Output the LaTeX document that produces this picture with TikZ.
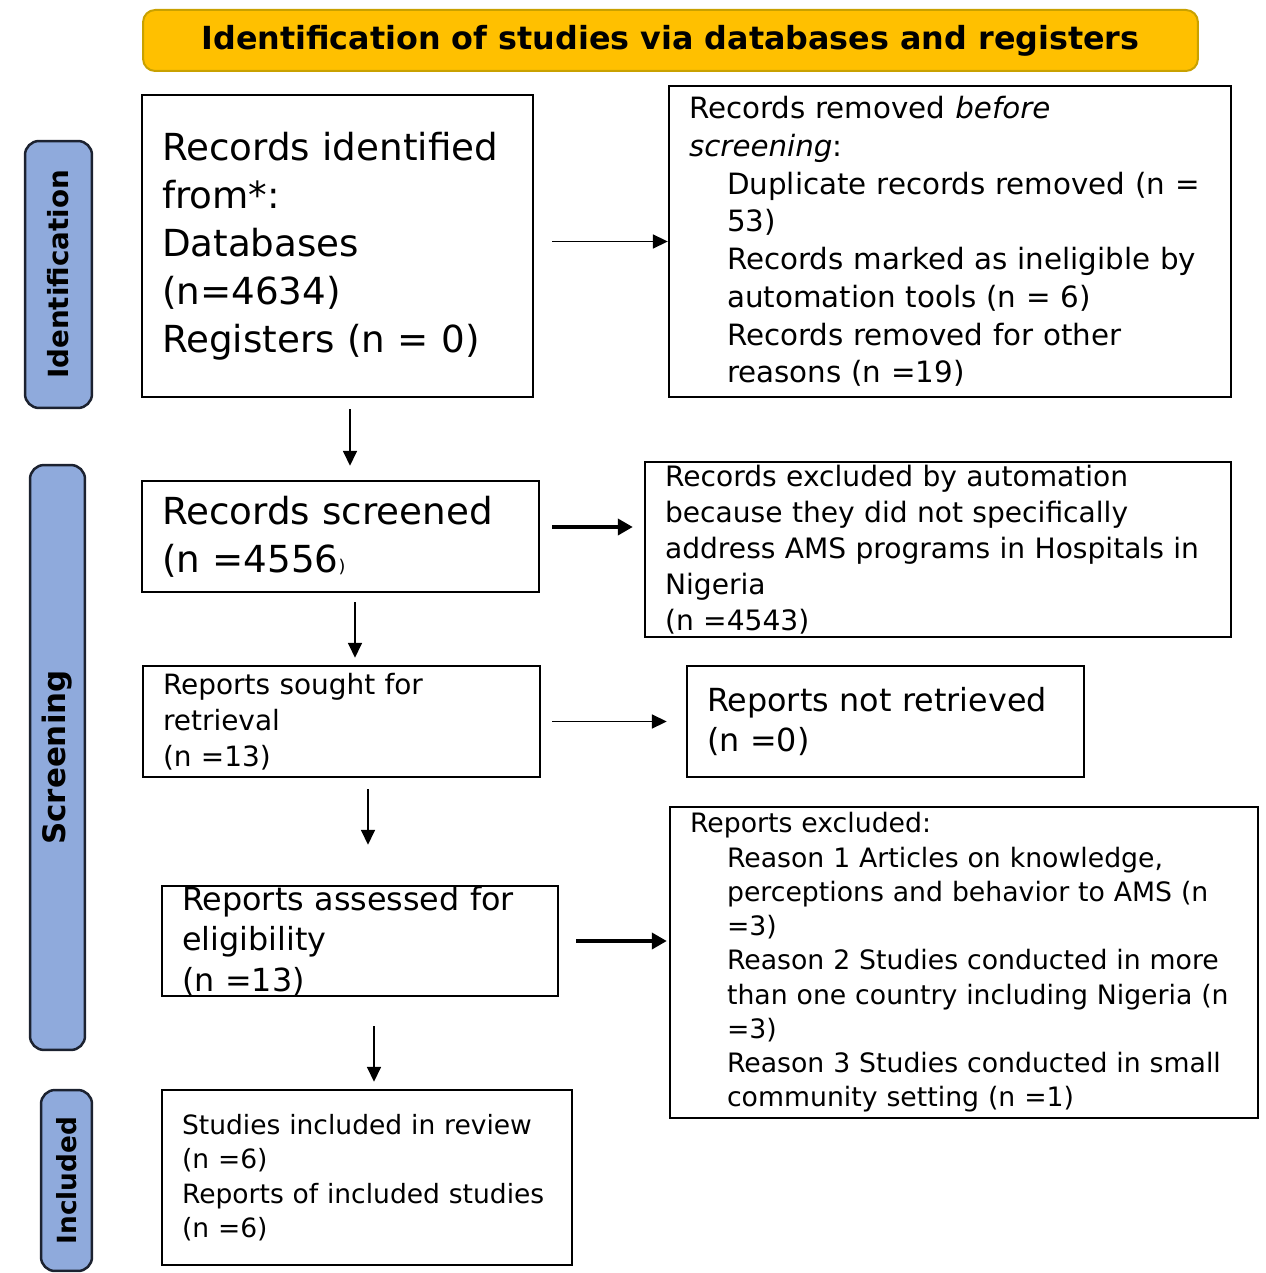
\documentclass[tikz,border=0pt]{standalone}
\usepackage{fontspec}
\setmainfont{DejaVu Sans}
\usetikzlibrary{arrows.meta}
\definecolor{headfill}{HTML}{FFC000}
\definecolor{headline}{HTML}{C9A100}
\definecolor{barfill}{HTML}{8FAADC}
\definecolor{barline}{HTML}{1C2230}
\begin{document}
\begin{tikzpicture}[x=0.02cm,y=-0.02cm,
	box/.style={draw,line width=0.05cm,align=left,inner xsep=0.4cm,inner ysep=-0.15cm},
	bar/.style={draw=barline,fill=barfill,line width=0.05cm,rounded corners=0.28cm,rotate=90,inner sep=0pt},
	arr/.style={line width=0.035cm,-{Triangle[length=0.3cm,width=0.28cm]}},
	fatarr/.style={line width=0.08cm,-{Triangle[length=0.3cm,width=0.32cm]}}]
	\useasboundingbox (0,0) rectangle (1265,1273);
	\node[draw=headline,fill=headfill,line width=0.04cm,rounded corners=0.24cm,minimum width=21.1cm,minimum height=1.22cm,font=\bfseries\fontsize{18.1}{22}\selectfont] (head) at (670.5,40.5) {Identification of studies via databases and registers};
	\node[bar,minimum width=5.34cm,minimum height=1.34cm,font=\bfseries\fontsize{15.8}{19}\selectfont] (idbar) at (58.5,274.5) {Identification};
	\node[bar,minimum width=11.7cm,minimum height=1.1cm,font=\bfseries\fontsize{17.6}{21}\selectfont] (scrbar) at (57.5,757.5) {Screening};
	\node[bar,minimum width=3.62cm,minimum height=1.02cm,font=\bfseries\fontsize{15}{18}\selectfont] (incbar) at (66.5,1180.5) {Included};
	\node[box,text width=7.02cm,minimum height=6.04cm,font=\fontsize{21.2}{27.3}\selectfont] (idbox) at (337.5,246) {Records identified\\from*:\\Databases\\(n=4634)\\Registers (n = 0)};
	\node[box,text width=10.44cm,minimum height=6.22cm,font=\fontsize{16.7}{21.5}\selectfont] (removed) at (950,241.5) {Records removed \textit{before}\\\textit{screening}:\\
		\hspace*{0.76cm}Duplicate records removed (n =\\\hspace*{0.76cm}53)\\
		\hspace*{0.76cm}Records marked as ineligible by\\\hspace*{0.76cm}automation tools (n = 6)\\
		\hspace*{0.76cm}Records removed for other\\\hspace*{0.76cm}reasons (n =19)};
	\node[box,text width=7.14cm,minimum height=2.22cm,font=\fontsize{21.2}{27.3}\selectfont] (screened) at (340.5,536.5) {Records screened\\(n =4556{\fontsize{10}{12}\selectfont)}};
	\node[box,text width=10.92cm,minimum height=3.5cm,font=\fontsize{16}{20.5}\selectfont] (autoexcl) at (938,549.5) {Records excluded by automation\\because they did not specifically\\address AMS programs in Hospitals in\\Nigeria\\(n =4543)};
	\node[box,text width=7.14cm,minimum height=2.22cm,font=\fontsize{15.9}{20.5}\selectfont] (sought) at (341.5,721.5) {Reports sought for\\retrieval\\(n =13)};
	\node[box,text width=7.14cm,minimum height=2.22cm,font=\fontsize{18.1}{23.3}\selectfont] (notret) at (885.5,721.5) {Reports not retrieved\\(n =0)};
	\node[box,text width=7.12cm,minimum height=2.2cm,font=\fontsize{18.1}{23.3}\selectfont] (assessed) at (360,941) {Reports assessed for\\eligibility\\(n =13)};
	\node[box,text width=10.96cm,minimum height=6.22cm,font=\fontsize{15.2}{19.5}\selectfont] (repexcl) at (964,962.5) {Reports excluded:\\
		\hspace*{0.74cm}Reason 1 Articles on knowledge,\\\hspace*{0.74cm}perceptions and behavior to AMS (n\\\hspace*{0.74cm}=3)\\
		\hspace*{0.74cm}Reason 2 Studies conducted in more\\\hspace*{0.74cm}than one country including Nigeria (n\\\hspace*{0.74cm}=3)\\
		\hspace*{0.74cm}Reason 3 Studies conducted in small\\\hspace*{0.74cm}community setting (n =1)};
	\node[box,text width=7.4cm,minimum height=3.5cm,font=\fontsize{15.1}{19.6}\selectfont] (included) at (367,1177.5) {Studies included in review\\(n =6)\\Reports of included studies\\(n =6)};
	\draw[arr,shorten <=0.36cm] (removed.west -| idbox.east) -- (removed.west);
	\draw[arr,shorten <=0.22cm,shorten >=0.28cm] ([xshift=0.25cm]idbox.south) -- ([xshift=0.25cm]idbox.south |- screened.north);
	\draw[fatarr,shorten <=0.24cm,shorten >=0.22cm] ([yshift=0.19cm]screened.east) -- ([yshift=0.19cm]screened.east -| autoexcl.west);
	\draw[arr,shorten <=0.18cm,shorten >=0.14cm] ([xshift=0.29cm]screened.south) -- ([xshift=0.29cm]screened.south |- sought.north);
	\draw[arr,shorten <=0.22cm,shorten >=0.38cm] (sought.east) -- (sought.east -| notret.west);
	\draw[arr,shorten <=0.22cm,shorten >=0.8cm] ([xshift=0.53cm]sought.south) -- ([xshift=0.53cm]sought.south |- assessed.north);
	\draw[fatarr,shorten <=0.34cm,shorten >=0.04cm] (assessed.east) -- (assessed.east -| repexcl.west);
	\draw[arr,shorten <=0.58cm,shorten >=0.14cm] ([xshift=0.28cm]assessed.south) -- ([xshift=0.28cm]assessed.south |- included.north);
\end{tikzpicture}
\end{document}
